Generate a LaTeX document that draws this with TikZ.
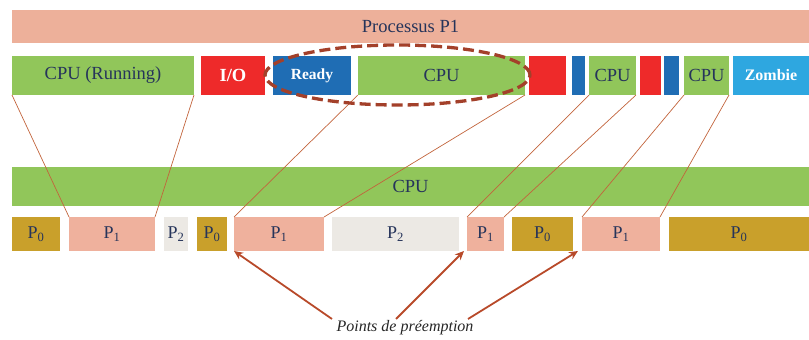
\documentclass[tikz,border=0pt]{standalone}
\usepackage{fontspec}
\setmainfont{Liberation Serif}
\usetikzlibrary{shapes.geometric,arrows.meta}
\definecolor{salmon}{HTML}{EDB09A}
\definecolor{grn}{HTML}{91C65A}
\definecolor{rd}{HTML}{EE2A2A}
\definecolor{dblue}{HTML}{1F6DB4}
\definecolor{lblue}{HTML}{2EA7E0}
\definecolor{mustard}{HTML}{C9A02B}
\definecolor{pone}{HTML}{EFB19D}
\definecolor{ptwo}{HTML}{ECE9E4}
\definecolor{txt}{HTML}{26345A}
\definecolor{brn}{HTML}{A3402A}
\definecolor{lnk}{HTML}{C2643C}
\definecolor{arr}{HTML}{B84A2A}
\begin{document}
\begin{tikzpicture}[x=1pt,y=-1pt,
  box/.style={draw=none, inner sep=0pt, outer sep=0pt, anchor=north west, text=txt,
    font=\fontsize{18.5}{21}\selectfont},
  rowtwo/.style={box, minimum height=39pt},
  rowfour/.style={box, minimum height=34pt, font=\fontsize{18}{20}\selectfont},
  wbold/.style={text=white, font=\bfseries\fontsize{15.5}{17}\selectfont},
  link/.style={draw=lnk, line width=0.7pt},
  parrow/.style={draw=arr, line width=1.8pt, -{Stealth[length=9pt,width=8pt]}}]
\useasboundingbox (0,0) rectangle (809,340);
% top bar
\node[box, fill=salmon, minimum width=797pt, minimum height=33pt] (proc) at (12,10) {Processus P1};
% row 2
\node[rowtwo, fill=grn, minimum width=182pt] (cpuA) at (12,56) {CPU (Running)};
\node[rowtwo, fill=rd, minimum width=64pt, text=white, font=\bfseries\fontsize{18.5}{21}\selectfont] (io) at (201,56) {I/O};
\node[rowtwo, fill=dblue, minimum width=78pt, wbold] (ready) at (273,56) {Ready};
\node[rowtwo, fill=grn, minimum width=167pt] (cpuB) at (358,56) {CPU};
\node[rowtwo, fill=rd, minimum width=37pt] (rB) at (529,56) {};
\node[rowtwo, fill=dblue, minimum width=13pt] (bB) at (572,56) {};
\node[rowtwo, fill=grn, minimum width=47pt] (cpuC) at (589,56) {CPU};
\node[rowtwo, fill=rd, minimum width=21pt] (rC) at (640,56) {};
\node[rowtwo, fill=dblue, minimum width=15pt] (bC) at (664,56) {};
\node[rowtwo, fill=grn, minimum width=45pt] (cpuD) at (684,56) {CPU};
\node[rowtwo, fill=lblue, minimum width=76pt, wbold, font=\bfseries\fontsize{16}{18}\selectfont] (zombie) at (733,56) {Zombie};
% CPU bar
\node[box, fill=grn, minimum width=797pt, minimum height=39pt] (cpubar) at (12,167) {CPU};
% row 4
\node[rowfour, fill=mustard, minimum width=48pt] (p0a) at (12,217) {P\textsubscript{0}};
\node[rowfour, fill=pone, minimum width=86pt] (p1a) at (69,217) {P\textsubscript{1}};
\node[rowfour, fill=ptwo, minimum width=24pt] (p2a) at (164,217) {P\textsubscript{2}};
\node[rowfour, fill=mustard, minimum width=30pt] (p0b) at (197,217) {P\textsubscript{0}};
\node[rowfour, fill=pone, minimum width=90pt] (p1b) at (234,217) {P\textsubscript{1}};
\node[rowfour, fill=ptwo, minimum width=127pt] (p2b) at (332,217) {P\textsubscript{2}};
\node[rowfour, fill=pone, minimum width=37pt] (p1c) at (467,217) {P\textsubscript{1}};
\node[rowfour, fill=mustard, minimum width=61pt] (p0c) at (512,217) {P\textsubscript{0}};
\node[rowfour, fill=pone, minimum width=78pt] (p1d) at (582,217) {P\textsubscript{1}};
\node[rowfour, fill=mustard, minimum width=140pt] (p0d) at (669,217) {P\textsubscript{0}};
% links
\draw[link] (cpuA.south west) -- (p1a.north west);
\draw[link] (cpuA.south east) -- (p1a.north east);
\draw[link] (cpuB.south west) -- (p1b.north west);
\draw[link] (cpuB.south east) -- (p1b.north east);
\draw[link] (cpuC.south west) -- (p1c.north west);
\draw[link] (cpuC.south east) -- (p1c.north east);
\draw[link] (cpuD.south west) -- (p1d.north west);
\draw[link] (cpuD.south east) -- (p1d.north east);
% ellipse
\node[ellipse, draw=brn, line width=3.3pt, dash pattern=on 11pt off 5pt,
  minimum width=265pt, minimum height=60pt, inner sep=0pt] (sel) at (397.5,75) {};
% label and arrows
\node[text=black!85, font=\itshape\fontsize{16}{19}\selectfont] (lbl) at (405,328) {Points de préemption};
\coordinate (s1) at (332,319);
\coordinate (s2) at (396,319);
\coordinate (s3) at (468,319);
\draw[parrow] (s1) -- (p1b.south west);
\draw[parrow] (s2) -- ([xshift=-3pt]p1c.south west);
\draw[parrow] (s3) -- ([xshift=-4pt]p1d.south west);
\end{tikzpicture}
\end{document}
